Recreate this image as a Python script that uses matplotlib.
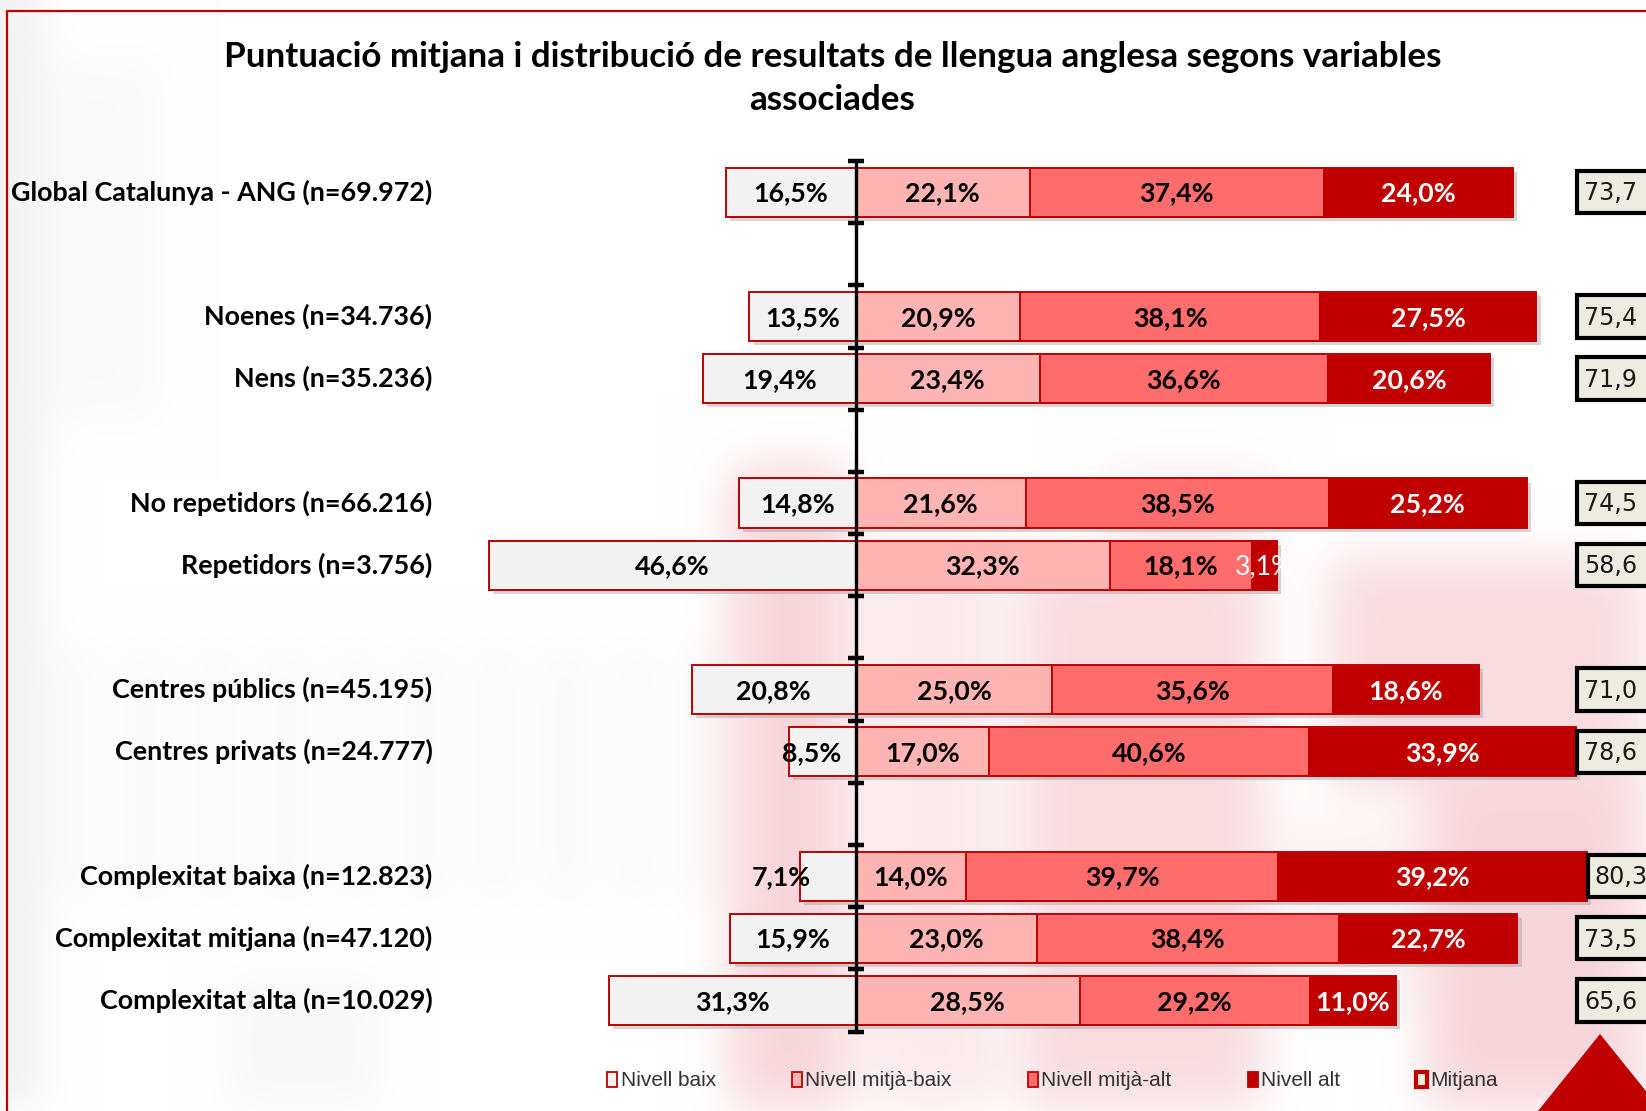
import numpy as np
import matplotlib
matplotlib.use("Agg")
import matplotlib.pyplot as plt
from matplotlib.patches import Rectangle, Patch, Polygon
from matplotlib.lines import Line2D
import matplotlib.patheffects as pe

# ---------------------------------------------------------------- data
categories = [
    "Global Catalunya - ANG (n=69.972)",
    "Noenes (n=34.736)",
    "Nens (n=35.236)",
    "No repetidors (n=66.216)",
    "Repetidors (n=3.756)",
    "Centres públics (n=45.195)",
    "Centres privats (n=24.777)",
    "Complexitat baixa (n=12.823)",
    "Complexitat mitjana (n=47.120)",
    "Complexitat alta (n=10.029)",
]
nivell_baix = [16.5, 13.5, 19.4, 14.8, 46.6, 20.8, 8.5, 7.1, 15.9, 31.3]
nivell_mitja_baix = [22.1, 20.9, 23.4, 21.6, 32.3, 25.0, 17.0, 14.0, 23.0, 28.5]
nivell_mitja_alt = [37.4, 38.1, 36.6, 38.5, 18.1, 35.6, 40.6, 39.7, 38.4, 29.2]
nivell_alt = [24.0, 27.5, 20.6, 25.2, 3.1, 18.6, 33.9, 39.2, 22.7, 11.0]
mitjana = [73.7, 75.4, 71.9, 74.5, 58.6, 71.0, 78.6, 80.3, 73.5, 65.6]
group_sizes = [1, 2, 2, 2, 3]
series_names = ["Nivell baix", "Nivell mitjà-baix", "Nivell mitjà-alt",
                "Nivell alt", "Mitjana"]
title = ("Puntuació mitjana i distribució de resultats de llengua anglesa "
         "segons variables\nassociades")

# ---------------------------------------------------------------- style
W, H, DPI = 1646, 1111, 100
RED = "#c00000"
C_BAIX = "#f2f2f2"
C_MB = "#ffb4b4"
C_MA = "#ff6c6c"
C_ALT = RED
C_MEAN = "#eeece1"
FONT = "Lato"
LEG_FONT = ["Liberation Sans Narrow", "Liberation Sans"]

PX_PER_PCT = 7.87        # horizontal scale, pixels per percentage point
X0_PX = 855.6            # pixel column of the zero line
ROW_PX = 62.18           # pixels per row slot
Y0_PX = 192.1            # pixel row of the first slot

fig = plt.figure(figsize=(W / DPI, H / DPI), dpi=DPI)
fig.patch.set_facecolor("white")

# ---------------------------------------------------------------- soft watermark
def gauss_blur(a, sigma):
    r = int(3 * sigma)
    k = np.exp(-0.5 * (np.arange(-r, r + 1) / sigma) ** 2)
    k /= k.sum()
    p = np.pad(a, r, mode="edge")
    p = np.apply_along_axis(lambda v: np.convolve(v, k, mode="valid"), 0, p)
    p = np.apply_along_axis(lambda v: np.convolve(v, k, mode="valid"), 1, p)
    return p

S = 4
hh, ww = H // S + 1, W // S + 1
pink = np.zeros((hh, ww))
grey = np.zeros((hh, ww))

def put(m, x0, x1, y0, y1, v):
    m[int(y0 / S):int(y1 / S), int(x0 / S):int(x1 / S)] = v

put(pink, 735, 850, 470, 1111, 1.0)
put(pink, 870, 1000, 540, 1111, 0.5)
put(pink, 1025, 1265, 560, 1111, 0.85)
put(pink, 1110, 1270, 470, 560, 0.45)
put(pink, 1335, 1646, 560, 790, 0.85)
put(pink, 1430, 1646, 790, 1111, 1.0)
put(pink, 1280, 1420, 820, 1000, 0.3)
put(grey, 0, 45, 0, 1111, 0.7)
for gx in range(60, 720, 70):
    put(grey, gx, gx + 35, 650, 900, 0.4)
put(grey, 230, 380, 980, 1111, 0.4)
put(grey, 40, 160, 60, 420, 0.3)

pink = np.clip(gauss_blur(pink, 6), 0, 1)[..., None]
grey = np.clip(gauss_blur(grey, 5), 0, 1)[..., None]
c_pink = np.array([247, 214, 219]) / 255
c_grey = np.array([238, 238, 238]) / 255
img = np.ones((hh, ww, 3))
img = img * (1 - grey) + c_grey * grey
img = img * (1 - pink) + c_pink * pink

bg = fig.add_axes([0, 0, 1, 1], zorder=0)
bg.imshow(img, extent=(0, W, H, 0), aspect="auto", interpolation="bilinear")
bg.set_xlim(0, W)
bg.set_ylim(H, 0)
bg.axis("off")

# ---------------------------------------------------------------- main axes
ax = fig.add_axes([0, 0, 1, 1], zorder=1)
ax.patch.set_alpha(0)
ax.set_xlim(-X0_PX / PX_PER_PCT, (W - X0_PX) / PX_PER_PCT)
ax.set_ylim((H - Y0_PX) / ROW_PX, -Y0_PX / ROW_PX)

# row positions: one empty slot between groups
pos = []
slot = 0
for g in group_sizes:
    for _ in range(g):
        pos.append(slot)
        slot += 1
    slot += 1
pos = np.array(pos, dtype=float)
n_slots = pos[-1] + 1

baix = np.array(nivell_baix)
mb = np.array(nivell_mitja_baix)
ma = np.array(nivell_mitja_alt)
alt = np.array(nivell_alt)

BAR_H = 0.79
shadow = [pe.SimplePatchShadow(offset=(3, -3), shadow_rgbFace="#8c8c8c", alpha=0.35),
          pe.Normal()]
bar_kw = dict(height=BAR_H, edgecolor=RED, linewidth=1.4)
segments = [
    (ax.barh(pos, -baix, left=0, color=C_BAIX, **bar_kw), baix, -baix / 2, "black"),
    (ax.barh(pos, mb, left=0, color=C_MB, **bar_kw), mb, mb / 2, "black"),
    (ax.barh(pos, ma, left=mb, color=C_MA, **bar_kw), ma, mb + ma / 2, "black"),
    (ax.barh(pos, alt, left=mb + ma, color=C_ALT, **bar_kw), alt, mb + ma + alt / 2, "white"),
]
for cont, *_ in segments:
    for p in cont.patches:
        p.set_path_effects(shadow)

def fmt(v, suffix="%"):
    return f"{v:.1f}".replace(".", ",") + suffix

renderer = fig.canvas.get_renderer()

def fit_size(text, target_px, **kw):
    t = fig.text(0, 0, text, fontsize=20, **kw)
    w = t.get_window_extent(renderer).width
    t.remove()
    return 20 * target_px / w

lab_fs = fit_size("37,4%", 75, family=FONT, weight="bold")
label_nudge = {6: -1.3, 7: -5.9}   # small baix segments: labels sit left of centre
for k, (cont, vals, centers, col) in enumerate(segments):
    for i, (v, c) in enumerate(zip(vals, centers)):
        x = c + (label_nudge.get(i, 0) if k == 0 else 0)
        weight = "bold" if v >= 5 else "normal"
        ax.text(x, pos[i] + 0.02, fmt(v), ha="center", va="center", color=col,
                fontsize=lab_fs, family=FONT, weight=weight, zorder=4)

# zero line with crossing ticks between rows
ax.spines[["top", "right", "bottom"]].set_visible(False)
ax.spines["left"].set_position(("data", 0))
ax.spines["left"].set_bounds(-0.5, n_slots - 0.5)
ax.spines["left"].set_linewidth(2.4)
ax.spines["left"].set_zorder(3)
ax.set_yticks(np.arange(-0.5, n_slots, 1.0))
ax.tick_params(axis="y", direction="inout", length=12, width=3.2,
               labelleft=False, color="black")
ax.set_xticks([])

# category labels
cat_fs = fit_size(max(categories, key=len), 422, family=FONT, weight="bold")
lab_x = (432.5 - X0_PX) / PX_PER_PCT
for c, y in zip(categories, pos):
    ax.text(lab_x, y, c, ha="right", va="center", fontsize=cat_fs,
            family=FONT, weight="bold", color="black")

# mean score boxes
mean_fs = fit_size("73,7", 53, family="DejaVu Sans")
box_x_default = (1577 - X0_PX) / PX_PER_PCT
box_h = 0.68
ends = mb + ma + alt
for m, y, e in zip(mitjana, pos, ends):
    bx = max(box_x_default, e + 0.1)
    ax.add_patch(Rectangle((bx, y - box_h / 2), 12, box_h, facecolor=C_MEAN,
                           edgecolor="black", linewidth=3.0, clip_on=False, zorder=4))
    ax.text(bx + 0.9, y + 0.02, fmt(m, ""), ha="left", va="center",
            fontsize=mean_fs, family="DejaVu Sans", color="#1a1a1a", zorder=5)

# title
title_fs = fit_size(title.split("\n")[0], 1219, family=FONT, weight="bold")
fig.text(832.5 / W, 1 - 78.5 / H, title, ha="center", va="center",
         fontsize=title_fs, family=FONT, weight="bold", linespacing=1.4)

# legend
leg_fs = fit_size("Nivell mitjà-baix", 146, family=LEG_FONT)
handles = [Patch(facecolor=c, edgecolor=RED, linewidth=1.3)
           for c in (C_BAIX, C_MB, C_MA, C_ALT)]
handles.append(Patch(facecolor=C_MEAN, edgecolor=RED, linewidth=3.0))
fs_px = leg_fs * DPI / 72
fig.legend(handles, series_names, loc="center left",
           bbox_to_anchor=(607 / W, 1 - 1081 / H), ncol=5, frameon=False,
           columnspacing=76 / fs_px, handletextpad=0.15, handlelength=0.5,
           handleheight=0.7, borderpad=0, borderaxespad=0,
           prop={"family": LEG_FONT, "size": leg_fs},
           labelcolor="#333333")

# frame line and corner triangle
fig.add_artist(Line2D([7.5 / W, 7.5 / W, 1], [0, 1 - 10.5 / H, 1 - 10.5 / H],
                      color=RED, linewidth=1.6, transform=fig.transFigure,
                      zorder=6))
fig.add_artist(Polygon([(1538 / W, 0), (1600 / W, 1 - 1034 / H), (1662 / W, 0)],
                       closed=True, facecolor=RED, edgecolor="none",
                       transform=fig.transFigure, clip_on=False, zorder=6))

fig.savefig("out.png", dpi=DPI, facecolor="white")
